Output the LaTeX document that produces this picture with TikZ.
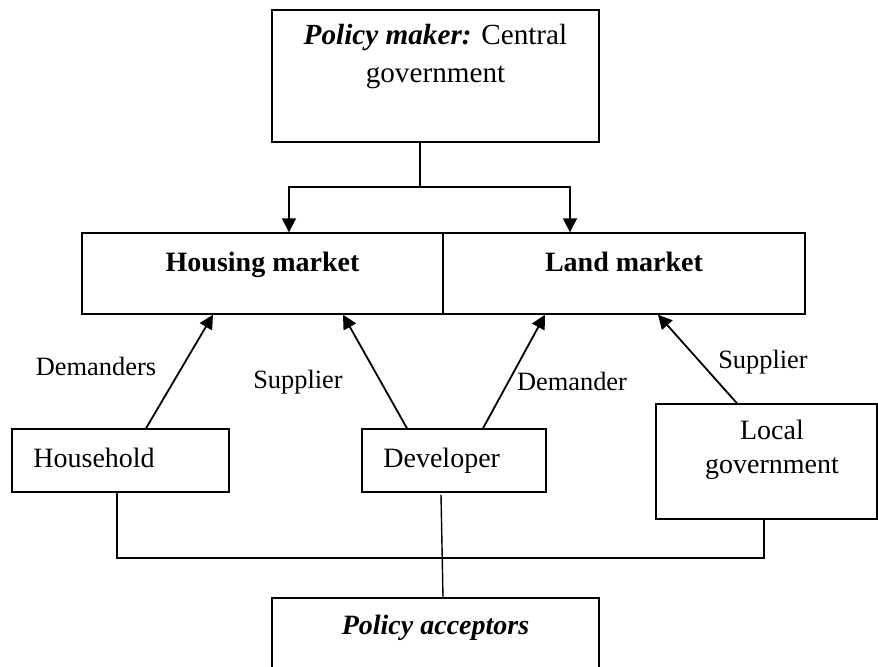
\documentclass[tikz,border=0pt]{standalone}
\usepackage{fontspec}
\setmainfont{Liberation Serif}
\usetikzlibrary{arrows.meta, positioning}

\begin{document}
\begin{tikzpicture}[x=0.5pt, y=-0.5pt,
	box/.style={draw, line width=0.7pt, inner sep=0pt},
	arr/.style={-{Triangle[length=7pt,width=7pt]}, line width=0.9pt},
	link/.style={line width=0.7pt},
	boxtext/.style={font=\fontsize{14}{17}\selectfont},
	every node/.append style={font=\fontsize{13.2}{17}\selectfont}]
	\useasboundingbox (0,0) rectangle (878,666);
	% boxes
	\node[box, minimum width=163.5pt, minimum height=66pt] (maker) at (435.5,76) {};
	\node[box, minimum width=180.5pt, minimum height=40.5pt] (housing) at (262.5,273.5) {};
	\node[box, minimum width=181pt, minimum height=40.5pt] (land) at (624,273.5) {};
	\node[box, minimum width=108.5pt, minimum height=31.5pt] (household) at (120.5,460.5) {};
	\node[box, minimum width=92pt, minimum height=31.5pt] (developer) at (454,460.5) {};
	\node[box, minimum width=110.5pt, minimum height=57.5pt] (localgov) at (766.5,461.5) {};
	\node[box, minimum width=163.5pt, minimum height=46pt] (acceptors) at (435.5,644) {};
	% texts
	\node[align=center, font=\fontsize{14.6}{19}\selectfont] (makertxt) at (435.5,57) {\textbf{\textit{Policy maker:}} Central\\government};
	\node[boxtext, anchor=base] (housingtxt) at (262.5,271) {\textbf{Housing market}};
	\node[boxtext, anchor=base] (landtxt) at (624,271) {\textbf{Land market}};
	\node[boxtext, anchor=base west, inner sep=0pt] (householdtxt) at (33,467) {Household};
	\node[boxtext, anchor=base west, inner sep=0pt] (developertxt) at (383,467) {Developer};
	\node[boxtext, align=center] (localtxt) at (772,450) {Local\\government};
	\node[boxtext, anchor=base] (acceptorstxt) at (435.5,634) {\textbf{\textit{Policy acceptors}}};
	% roles
	\node (dem1) at (96,366) {Demanders};
	\node (sup1) at (298,382) {Supplier};
	\node (dem2) at (572,381) {Demander};
	\node (sup2) at (763,362) {Supplier};
	% central government to both markets
	\coordinate (split) at (420,187);
	\draw[link] (maker.south -| split) -- (split);
	\draw[arr] (split) -| ([xshift=13.25pt]housing.north);
	\draw[arr] (split) -| ([xshift=-27pt]land.north);
	% actors to markets
	\draw[arr] ([xshift=12.75pt]household.north) -- ([xshift=-24.75pt]housing.south);
	\draw[arr] ([xshift=-23.5pt]developer.north) -- ([xshift=40.25pt]housing.south);
	\draw[arr] ([xshift=14.5pt]developer.north) -- ([xshift=-39.5pt]land.south);
	\draw[arr] ([xshift=-14.75pt]localgov.north) -- ([xshift=17pt]land.south);
	% actors to policy acceptors
	\coordinate (bus) at (117,558);
	\draw[link] (household.south -| bus) -- (bus) -| ([xshift=-1.25pt]localgov.south);
	\draw[link] ([xshift=-6.5pt,yshift=-1pt]developer.south) -- ([xshift=3.75pt]acceptors.north);
\end{tikzpicture}
\end{document}
